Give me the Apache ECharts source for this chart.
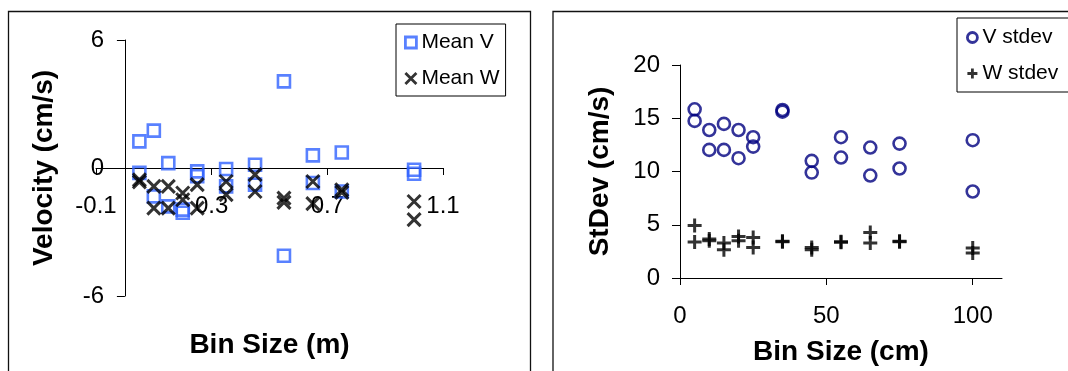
<!DOCTYPE html>
<html>
<head>
<meta charset="utf-8">
<script src="https://cdn.jsdelivr.net/npm/echarts@6/dist/echarts.min.js"></script>
<style>
  html, body { margin: 0; padding: 0; background: #fff; }
  #chart { width: 1068px; height: 371px; }
</style>
</head>
<body>
<div id="chart"></div>
<script>
// Bin sizes used for both panels
const binSizeM = [0.05, 0.1, 0.15, 0.2, 0.25, 0.35, 0.45, 0.55, 0.65, 0.75, 1.0];
const binSizeCm = [5, 10, 15, 20, 25, 35, 45, 55, 65, 75, 100];

// Mean velocities (cm/s), two records per bin size
const meanV1 = [1.25, 1.75, 0.23, -1.95, -0.16, -0.05, 0.15, 4.06, 0.59, 0.73, -0.08];
const meanV2 = [-0.23, -1.33, -1.8, -2.1, -0.39, -0.86, -0.78, -4.11, -0.7, -1.1, -0.27];
const meanW1 = [-0.55, -0.86, -0.86, -1.17, -0.78, -0.63, -0.31, -1.41, -0.63, -1.02, -1.57];
const meanW2 = [-0.65, -1.88, -1.88, -1.49, -1.88, -1.25, -1.1, -1.61, -1.67, -1.14, -2.42];

// Standard deviations (cm/s), two records per bin size
const vStdev1 = [15.84, 13.9, 14.47, 13.9, 13.22, 15.78, 11.0, 13.22, 12.25, 12.62, 12.94];
const vStdev2 = [14.75, 12.03, 12.03, 11.25, 12.34, 15.62, 9.9, 11.31, 9.62, 10.28, 8.12];
const wStdev1 = [4.93, 3.66, 3.28, 3.9, 3.81, 3.45, 2.87, 3.4, 4.28, 3.46, 2.81];
const wStdev2 = [3.37, 3.5, 2.65, 3.5, 2.87, 3.4, 2.65, 3.35, 3.28, 3.41, 2.34];

// Axis tick values
const binTicksM = [-0.1, 0.3, 0.7, 1.1];
const binTicksCm = [0, 50, 100];

const FONT = "'Liberation Sans', Arial, sans-serif";
const pairs = (xs, a, b) => xs.flatMap((x, i) => [[x, a[i]], [x, b[i]]]);

const crossMark = 'path://M0,0L10,10M10,0L0,10';
const plusMark = 'path://M5,0L5,10M0,5L10,5';
const hollow = 'rgba(0,0,0,0)';

const axisLineStyle = { color: '#000', width: 1 };
const tickLabel = { fontSize: 24, color: '#000', fontFamily: FONT };
const axisName = { fontSize: 28, fontWeight: 'bold', color: '#000', fontFamily: FONT };

const chart = echarts.init(document.getElementById('chart'), null, { renderer: 'canvas' });

chart.setOption({
  animation: false,
  backgroundColor: '#fff',
  graphic: [
    { type: 'rect', shape: { x: 8.5, y: 11.5, width: 522, height: 420 },
      style: { fill: 'none', stroke: '#111', lineWidth: 1.3 }, silent: true },
    { type: 'rect', shape: { x: 553, y: 11.5, width: 560, height: 420 },
      style: { fill: 'none', stroke: '#111', lineWidth: 1.3 }, silent: true }
  ],
  grid: [
    { left: 96, top: 40, width: 347, height: 256, outerBoundsMode: 'none', containLabel: false },
    { left: 680, top: 65, width: 322, height: 213, outerBoundsMode: 'none', containLabel: false }
  ],
  legend: [
    {
      data: ['Mean V', 'Mean W'],
      orient: 'vertical', left: 396, top: 24,
      padding: [8, 6, 7, 8], itemGap: 15, itemWidth: 11, itemHeight: 11,
      borderColor: '#000', borderWidth: 1, selectedMode: false,
      itemStyle: { borderWidth: 2.8 },
      textStyle: { fontSize: 21, color: '#000', fontFamily: FONT }
    },
    {
      data: ['V stdev', 'W stdev'],
      orient: 'vertical', left: 957, top: 18,
      padding: [9, 40, 8, 9], itemGap: 15, itemWidth: 10, itemHeight: 10,
      borderColor: '#000', borderWidth: 1, selectedMode: false,
      itemStyle: { borderWidth: 2.8 },
      textStyle: { fontSize: 21, color: '#000', fontFamily: FONT }
    }
  ],
  xAxis: [
    {
      // line sits on velocity 0; labels and title are offset from the grid's bottom edge
      type: 'value', gridIndex: 0, min: -0.1, max: 1.1,
      splitLine: { show: false },
      axisLine: { show: true, onZero: true, lineStyle: axisLineStyle },
      axisTick: { show: true, length: 7, customValues: binTicksM, lineStyle: axisLineStyle },
      axisLabel: { customValues: binTicksM, margin: -102, ...tickLabel },
      name: 'Bin Size (m)', nameLocation: 'middle', nameGap: 35, nameTextStyle: axisName
    },
    {
      type: 'value', gridIndex: 1, min: 0, max: 110,
      splitLine: { show: false },
      axisLine: { show: true, onZero: true, lineStyle: axisLineStyle },
      axisTick: { show: true, length: 7, customValues: binTicksCm, lineStyle: axisLineStyle },
      axisLabel: { customValues: binTicksCm, margin: 26, ...tickLabel },
      name: 'Bin Size (cm)', nameLocation: 'middle', nameGap: 60, nameTextStyle: axisName
    }
  ],
  yAxis: [
    {
      // line sits on bin size 0; labels and title are offset from the grid's left edge
      type: 'value', gridIndex: 0, min: -6, max: 6, interval: 6,
      splitLine: { show: false },
      axisLine: { show: true, onZero: true, lineStyle: axisLineStyle },
      axisTick: { show: true, length: 8, lineStyle: axisLineStyle },
      axisLabel: { margin: -8, ...tickLabel },
      name: 'Velocity (cm/s)', nameLocation: 'middle', nameGap: 38, nameTextStyle: axisName
    },
    {
      type: 'value', gridIndex: 1, min: 0, max: 20, interval: 5,
      splitLine: { show: false },
      axisLine: { show: true, onZero: true, lineStyle: axisLineStyle },
      axisTick: { show: true, length: 8, lineStyle: axisLineStyle },
      axisLabel: { margin: 20, ...tickLabel },
      name: 'StDev (cm/s)', nameLocation: 'middle', nameGap: 66, nameTextStyle: axisName
    }
  ],
  series: [
    {
      type: 'scatter', name: 'Mean V', xAxisIndex: 0, yAxisIndex: 0,
      data: pairs(binSizeM, meanV1, meanV2),
      symbol: 'rect', symbolSize: 12, silent: true,
      itemStyle: { color: hollow, borderColor: '#2f62ff', borderWidth: 2.6 }
    },
    {
      type: 'scatter', name: 'Mean W', xAxisIndex: 0, yAxisIndex: 0,
      data: pairs(binSizeM, meanW1, meanW2),
      symbol: crossMark, symbolSize: 13, silent: true,
      itemStyle: { color: hollow, borderColor: '#000', borderWidth: 3 }
    },
    {
      type: 'scatter', name: 'V stdev', xAxisIndex: 1, yAxisIndex: 1,
      data: pairs(binSizeCm, vStdev1, vStdev2),
      symbol: 'circle', symbolSize: 12, silent: true,
      itemStyle: { color: hollow, borderColor: '#000080', borderWidth: 2.6 }
    },
    {
      type: 'scatter', name: 'W stdev', xAxisIndex: 1, yAxisIndex: 1,
      data: pairs(binSizeCm, wStdev1, wStdev2),
      symbol: plusMark, symbolSize: 14, silent: true,
      itemStyle: { color: hollow, borderColor: '#000', borderWidth: 3 }
    }
  ]
});
</script>
</body>
</html>
